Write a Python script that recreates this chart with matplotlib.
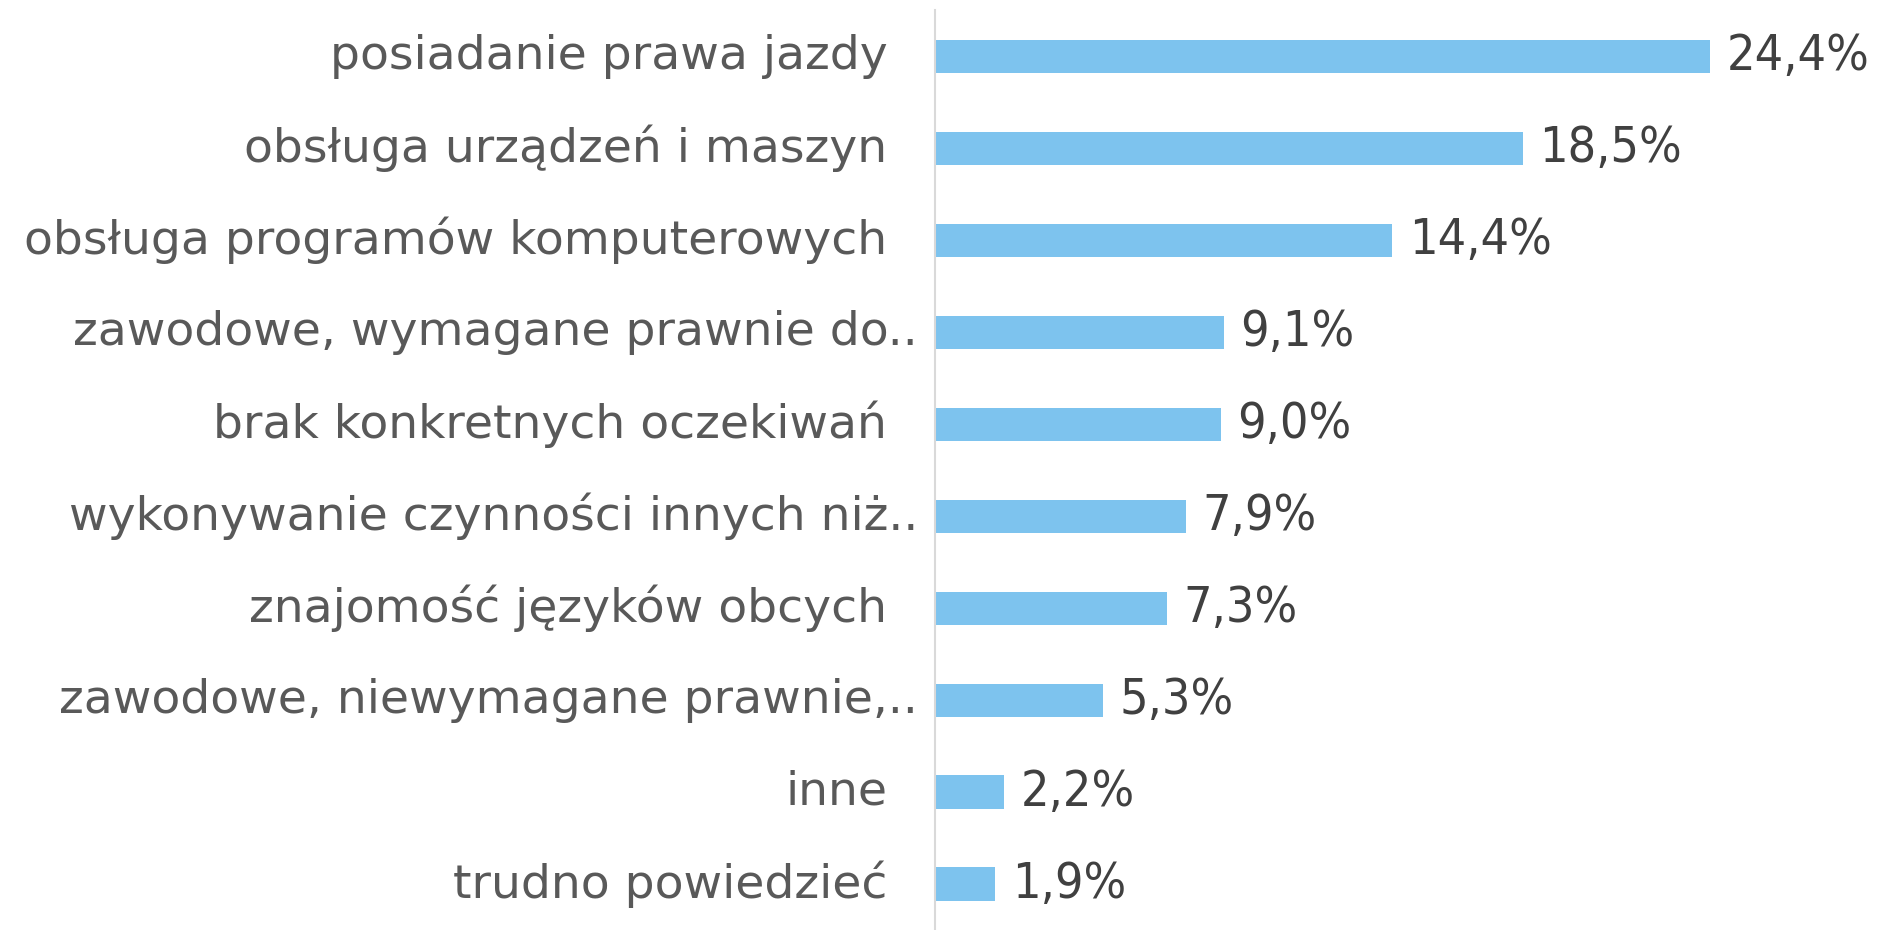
import matplotlib
matplotlib.use("Agg")
import matplotlib.pyplot as plt

# Oczekiwane umiejętności – udział odpowiedzi (%)
categories = [
    "posiadanie prawa jazdy",
    "obsługa urządzeń i maszyn",
    "obsługa programów komputerowych",
    "zawodowe, wymagane prawnie do..",
    "brak konkretnych oczekiwań",
    "wykonywanie czynności innych niż..",
    "znajomość języków obcych",
    "zawodowe, niewymagane prawnie,..",
    "inne",
    "trudno powiedzieć",
]
values = [24.4, 18.5, 14.4, 9.1, 9.0, 7.9, 7.3, 5.3, 2.2, 1.9]
value_labels = ["24,4%", "18,5%", "14,4%", "9,1%", "9,0%",
                "7,9%", "7,3%", "5,3%", "2,2%", "1,9%"]

BAR_COLOR = "#7DC3EE"
LABEL_COLOR = "#595959"
VALUE_COLOR = "#404040"
FONT = "DejaVu Sans"

fig = plt.figure(figsize=(18.88, 9.30), dpi=100)
ax = fig.add_axes([0.495, 0.0, 0.505, 0.989])

ypos = list(range(len(categories)))
ax.barh(ypos, values, height=0.36, color=BAR_COLOR)
ax.set_xlim(0, 30.0)
ax.set_ylim(len(categories) - 0.5, -0.5)

for spine in ["top", "right", "bottom"]:
    ax.spines[spine].set_visible(False)
ax.spines["left"].set_color("#D9D9D9")
ax.spines["left"].set_linewidth(1.5)
ax.set_xticks([])
ax.set_yticks([])

# category labels (truncated ones sit closer to the axis)
for y, name in zip(ypos, categories):
    offset = -12 if name.endswith("..") else -34
    ax.annotate(name, xy=(0, y), xycoords=("axes fraction", "data"),
                xytext=(offset, 0), textcoords="offset points",
                ha="right", va="center", fontsize=34,
                color=LABEL_COLOR, family=FONT)

# value labels
for y, v, lab in zip(ypos, values, value_labels):
    ax.annotate(lab, xy=(v, y), xytext=(12, 0), textcoords="offset points",
                ha="left", va="center", fontsize=36, fontstretch="condensed",
                color=VALUE_COLOR, family=FONT)

fig.savefig("out.png", dpi=100)
plt.close(fig)
